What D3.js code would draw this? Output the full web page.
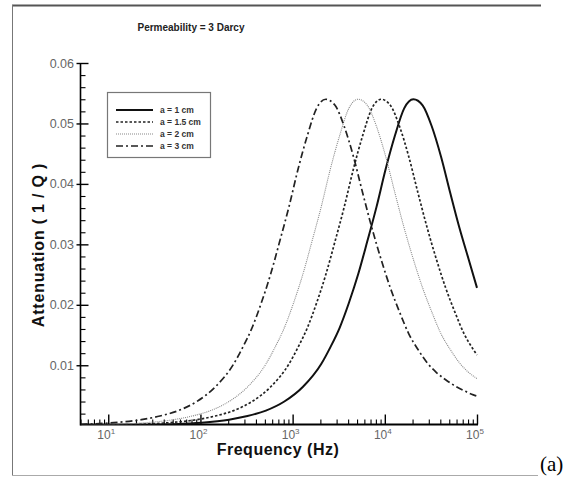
<!DOCTYPE html>
<html>
<head>
<meta charset="utf-8">
<script src="https://cdn.jsdelivr.net/npm/d3@7"></script>
<style>
  html, body { margin: 0; padding: 0; background: #fff; }
  svg { display: block; }
</style>
</head>
<body>
<svg id="chart" width="576" height="479"></svg>
<script>
// ---- Data ----
const titleText = "Permeability = 3 Darcy";
const xLabel = "Frequency (Hz)";
const yLabel = "Attenuation ( 1 / Q )";
const seriesNames = ["a = 1 cm", "a = 1.5 cm", "a = 2 cm", "a = 3 cm"];

// log10(frequency in Hz) and attenuation values for each curve
const logF_a1 = [0.71, 1.31, 1.71, 2.01, 2.31, 2.51, 2.71, 2.91, 3.11, 3.31, 3.41, 3.51, 3.61, 3.71, 3.81, 3.91, 4.01, 4.11, 4.21, 4.31, 4.41, 4.51, 4.61, 4.71, 4.81, 4.91, 5.0];
const att_a1  = [0.00003, 0.0001, 0.00025, 0.0005, 0.0010, 0.0016, 0.0025, 0.0040, 0.0064, 0.0102, 0.0130, 0.0162, 0.0203, 0.0250, 0.0305, 0.0362, 0.0425, 0.0480, 0.0525, 0.0540, 0.0530, 0.0495, 0.0445, 0.0385, 0.0327, 0.0275, 0.0228];

const logF_a15 = [0.7, 1.0, 1.36, 1.66, 1.96, 2.16, 2.36, 2.56, 2.76, 2.96, 3.06, 3.16, 3.26, 3.36, 3.46, 3.56, 3.66, 3.76, 3.86, 3.96, 4.06, 4.16, 4.26, 4.36, 4.46, 4.56, 4.66, 4.76, 4.86, 4.96, 5.0];
const att_a15  = [0.00001, 0.0001, 0.00025, 0.0005, 0.0010, 0.0016, 0.0025, 0.0040, 0.0064, 0.0102, 0.0130, 0.0162, 0.0203, 0.0250, 0.0305, 0.0362, 0.0425, 0.0480, 0.0525, 0.0540, 0.0530, 0.0495, 0.0445, 0.0385, 0.0327, 0.0275, 0.0228, 0.0188, 0.0152, 0.0126, 0.0117];

const logF_a2 = [0.71, 1.11, 1.41, 1.71, 1.91, 2.11, 2.31, 2.51, 2.71, 2.81, 2.91, 3.01, 3.11, 3.21, 3.31, 3.41, 3.51, 3.61, 3.71, 3.81, 3.91, 4.01, 4.11, 4.21, 4.31, 4.41, 4.51, 4.61, 4.71, 4.81, 4.91, 5.0];
const att_a2  = [0.0001, 0.00025, 0.0005, 0.0010, 0.0016, 0.0025, 0.0040, 0.0064, 0.0102, 0.0130, 0.0162, 0.0203, 0.0250, 0.0305, 0.0362, 0.0425, 0.0480, 0.0525, 0.0540, 0.0530, 0.0495, 0.0445, 0.0385, 0.0327, 0.0275, 0.0228, 0.0188, 0.0152, 0.0126, 0.0104, 0.0088, 0.0078];

const logF_a3 = [0.7, 0.76, 1.06, 1.36, 1.56, 1.76, 1.96, 2.16, 2.36, 2.46, 2.56, 2.66, 2.76, 2.86, 2.96, 3.06, 3.16, 3.26, 3.36, 3.46, 3.56, 3.66, 3.76, 3.86, 3.96, 4.06, 4.16, 4.26, 4.36, 4.46, 4.56, 4.66, 4.76, 4.86, 4.96, 5.0];
const att_a3  = [0.00022, 0.00025, 0.0005, 0.0010, 0.0016, 0.0025, 0.0040, 0.0064, 0.0102, 0.0130, 0.0162, 0.0203, 0.0250, 0.0305, 0.0362, 0.0425, 0.0480, 0.0525, 0.0540, 0.0530, 0.0495, 0.0445, 0.0385, 0.0327, 0.0275, 0.0228, 0.0188, 0.0152, 0.0126, 0.0104, 0.0088, 0.0076, 0.0066, 0.0058, 0.0051, 0.0049];

const yTickValues = [0.01, 0.02, 0.03, 0.04, 0.05, 0.06];
const yTickLabels = ["0.01", "0.02", "0.03", "0.04", "0.05", "0.06"];
const xDecades = [1, 2, 3, 4, 5];
const xDomain = [5, 100000];
const yDomain = [0.0002, 0.06];

// ---- Drawing ----
(function () {
const svg = d3.select("#chart");
const sans = "Liberation Sans, Arial, sans-serif";

// outer frame lines
svg.append("line").attr("x1", 12).attr("x2", 541).attr("y1", 5.5).attr("y2", 5.5)
  .attr("stroke", "#555").attr("stroke-width", 2);
svg.append("line").attr("x1", 12.5).attr("x2", 12.5).attr("y1", 5).attr("y2", 475)
  .attr("stroke", "#777").attr("stroke-width", 1);
svg.append("line").attr("x1", 12).attr("x2", 538).attr("y1", 475.5).attr("y2", 475.5)
  .attr("stroke", "#aaa").attr("stroke-width", 1);

const pL = 80.5, pR = 477, pT = 63, pB = 424.5;
const x = d3.scaleLog().domain(xDomain).range([pL, pR]);
const y = d3.scaleLinear().domain(yDomain).range([pB, pT]);

svg.append("defs").append("clipPath").attr("id", "clip")
  .append("rect").attr("x", pL).attr("y", pT - 10).attr("width", pR - pL + 2).attr("height", pB - pT + 10);

// Y axis (ticks inward)
const yMinor = d3.range(0.002, 0.0601, 0.002).filter(v => Math.abs(v * 100 - Math.round(v * 100)) > 1e-6);
const gy = svg.append("g").attr("transform", `translate(${pL},0)`);
gy.call(d3.axisRight(y).tickValues(yTickValues).tickSize(8).tickFormat(""));
gy.select(".domain").remove();
gy.selectAll(".tick line").attr("stroke", "#000").attr("stroke-width", 1.4);
gy.selectAll(".tick").append("line").attr("x1", -4).attr("x2", 0).attr("stroke", "#000").attr("stroke-width", 1.4);
const gyMinor = svg.append("g").attr("transform", `translate(${pL},0)`);
gyMinor.call(d3.axisRight(y).tickValues(yMinor).tickSize(5).tickFormat(""));
gyMinor.select(".domain").remove();
gyMinor.selectAll(".tick line").attr("stroke", "#000").attr("stroke-width", 1.1);
svg.append("line").attr("x1", pL).attr("x2", pL).attr("y1", pT).attr("y2", pB + 1)
  .attr("stroke", "#000").attr("stroke-width", 1.6);
svg.selectAll(".ylab").data(yTickValues).enter().append("text")
  .attr("class", "ylab")
  .attr("x", 74).attr("y", d => y(d) + 4.5)
  .attr("text-anchor", "end")
  .attr("font-family", sans)
  .attr("font-size", 12.5).attr("fill", "#666")
  .text((d, i) => yTickLabels[i]);

// X axis (ticks inward)
const xMajor = xDecades.map(e => Math.pow(10, e));
const xMinor = [];
[0, 1, 2, 3, 4].forEach(e => { for (let m = 2; m <= 9; m++) { const v = m * Math.pow(10, e); if (v >= xDomain[0] && v <= xDomain[1]) xMinor.push(v); } });
const gx = svg.append("g").attr("transform", `translate(0,${pB})`);
gx.call(d3.axisTop(x).tickValues(xMajor).tickSize(10).tickFormat(""));
gx.select(".domain").remove();
gx.selectAll(".tick line").attr("stroke", "#000").attr("stroke-width", 1.4);
const gxMinor = svg.append("g").attr("transform", `translate(0,${pB})`);
gxMinor.call(d3.axisTop(x).tickValues(xMinor).tickSize(5).tickFormat(""));
gxMinor.select(".domain").remove();
gxMinor.selectAll(".tick line").attr("stroke", "#000").attr("stroke-width", 1.1);
svg.append("line").attr("x1", pL).attr("x2", pR + 1).attr("y1", pB).attr("y2", pB)
  .attr("stroke", "#000").attr("stroke-width", 1.8);

const xl = svg.selectAll(".xlab").data(xDecades).enter().append("text")
  .attr("class", "xlab")
  .attr("x", d => x(Math.pow(10, d)) - 2).attr("y", 439)
  .attr("text-anchor", "middle")
  .attr("font-family", sans)
  .attr("fill", "#666");
xl.append("tspan").attr("font-size", 12).text("10");
xl.append("tspan").attr("font-size", 8).attr("dy", -5).text(d => d);

// Curves
const series = [
  { name: seriesNames[0], lf: logF_a1, v: att_a1, dash: null, width: 2.0, color: "#111" },
  { name: seriesNames[1], lf: logF_a15, v: att_a15, dash: "2.5,2", width: 1.7, color: "#222" },
  { name: seriesNames[2], lf: logF_a2, v: att_a2, dash: "1,1", width: 1.1, color: "#888" },
  { name: seriesNames[3], lf: logF_a3, v: att_a3, dash: "7,3,2,3", width: 1.7, color: "#222" }
];
const line = d3.line().curve(d3.curveMonotoneX)
  .x(d => x(Math.pow(10, d[0]))).y(d => y(d[1]));
const gc = svg.append("g").attr("clip-path", "url(#clip)");
series.forEach(s => {
  gc.append("path")
    .datum(s.lf.map((l, i) => [l, s.v[i]]))
    .attr("d", line)
    .attr("fill", "none")
    .attr("stroke", s.color)
    .attr("stroke-width", s.width)
    .attr("stroke-dasharray", s.dash);
});

// Legend
svg.append("rect").attr("x", 107.5).attr("y", 92.5).attr("width", 103).attr("height", 65)
  .attr("fill", "#fff").attr("stroke", "#777").attr("stroke-width", 1.2);
const legRows = [110, 122, 134, 146];
series.forEach((s, i) => {
  svg.append("line").attr("x1", 116).attr("x2", 153).attr("y1", legRows[i]).attr("y2", legRows[i])
    .attr("stroke", s.color).attr("stroke-width", s.width).attr("stroke-dasharray", s.dash);
  svg.append("text").attr("x", 160).attr("y", legRows[i] + 3)
    .attr("font-family", sans)
    .attr("font-size", 8.5).attr("font-weight", "bold").attr("fill", "#333")
    .text(s.name);
});

// Title and axis labels
svg.append("text").attr("x", 191).attr("y", 31).attr("text-anchor", "middle")
  .attr("font-family", sans)
  .attr("font-size", 10).attr("font-weight", "bold").attr("fill", "#222")
  .text(titleText);
svg.append("text").attr("x", 278).attr("y", 455).attr("text-anchor", "middle")
  .attr("font-family", sans)
  .attr("font-size", 16).attr("font-weight", "bold").attr("fill", "#111")
  .attr("letter-spacing", 0.5)
  .text(xLabel);
svg.append("text").attr("transform", "translate(44,245) rotate(-90)").attr("text-anchor", "middle")
  .attr("font-family", sans)
  .attr("font-size", 16).attr("font-weight", "bold").attr("fill", "#111")
  .attr("letter-spacing", 0.8)
  .text(yLabel);
svg.append("text").attr("x", 540).attr("y", 471)
  .attr("font-family", "Liberation Serif, Times New Roman, serif")
  .attr("font-size", 21).attr("fill", "#000")
  .text("(a)");
})();
</script>
</body>
</html>
